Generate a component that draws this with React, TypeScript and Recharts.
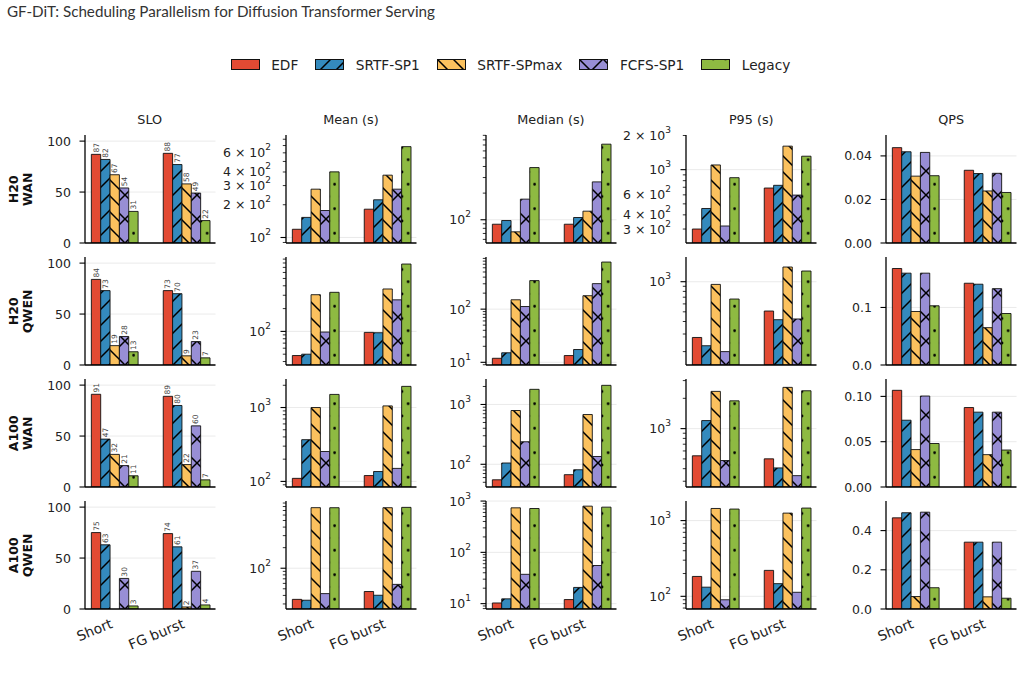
import React from 'react';
import { BarChart, Bar, XAxis, YAxis, CartesianGrid, LabelList } from 'recharts';

// ---------- data ----------
const categories = ['Short', 'FG burst'];
const schedulers = ['EDF', 'SRTF-SP1', 'SRTF-SPmax', 'FCFS-SP1', 'Legacy'];
const rowLabels = [['H20', 'WAN'], ['H20', 'QWEN'], ['A100', 'WAN'], ['A100', 'QWEN']];
const metricTitles = ['SLO', 'Mean (s)', 'Median (s)', 'P95 (s)', 'QPS'];

// every row: [Short, FG burst], values in scheduler order
const sloValues = [
  [[87, 82, 67, 54, 31], [88, 77, 58, 49, 22]],
  [[84, 73, 19, 28, 13], [73, 70, 9, 23, 7]],
  [[91, 47, 32, 21, 11], [89, 80, 22, 60, 7]],
  [[75, 63, 0, 30, 3], [74, 61, 2, 37, 4]],
];
const meanValues = [
  [[119, 153, 278, 177, 401], [182, 222, 374, 278, 684]],
  [[48, 50, 305, 98, 328], [97, 96, 363, 261, 775]],
  [[110, 367, 1000, 254, 1504], [120, 136, 1052, 150, 1933]],
  [[35, 34, 770, 42.5, 769], [45.6, 40.2, 769, 58, 778]],
];
const medianValues = [
  [[89, 98, 73, 171, 389], [89, 106, 125, 268, 715]],
  [[11.9, 15.1, 150, 112, 344], [13.4, 17.4, 179, 302, 769]],
  [[55, 105, 793, 238, 1791], [67, 81, 679, 135, 2090]],
  [[10.3, 12.4, 738, 37.3, 716], [12, 20.7, 796, 55.4, 761]],
];
const p95Values = [
  [[300, 455, 1100, 319, 850], [689, 728, 1611, 597, 1314]],
  [[277, 229, 940, 200, 671], [509, 417, 1402, 424, 1279]],
  [[537, 1202, 2344, 482, 1888], [501, 407, 2570, 341, 2377]],
  [[183, 132, 1445, 90, 1419], [220, 147, 1255, 113, 1463]],
];
const qpsValues = [
  [[0.0438, 0.0419, 0.0307, 0.0416, 0.0309], [0.0334, 0.0319, 0.0239, 0.032, 0.0232]],
  [[0.1677, 0.1596, 0.093, 0.1596, 0.1029], [0.1421, 0.1404, 0.0649, 0.1327, 0.0895]],
  [[0.1067, 0.0737, 0.0413, 0.1004, 0.048], [0.0877, 0.0826, 0.0357, 0.0826, 0.0408]],
  [[0.465, 0.491, 0.0636, 0.494, 0.1085], [0.341, 0.341, 0.062, 0.341, 0.055]],
];

const sloTicks = [0, 50, 100];
const qpsTicks = [[0, 0.02, 0.04], [0, 0.1], [0, 0.05, 0.1], [0, 0.2, 0.4]];
const qpsTickDigits = [2, 1, 2, 1];

// ---------- axis limits ----------
const sloLimits = [0, 106];
const meanLimits = [[89, 875], [36, 960], [84, 2432], [25.3, 964]];
const medianLimits = [[54.6, 908], [8.9, 957], [41.7, 2667], [7.86, 1003]];
const p95Limits = [[226, 2020], [147, 1766], [263, 3112], [68, 1814]];
const qpsLimits = [0.0496, 0.1877, 0.1192, 0.551];
const xLimits = [-0.4075, 1.4075];

// ---------- styling ----------
const COLORS = ['#E24A33', '#348ABD', '#FBC15E', '#988ED5', '#8EBA42'];
const HATCHES = ['', '/', '\\', 'x', '.'];
const FONT = '"DejaVu Sans", Verdana, sans-serif';
const LINE_S = 16;
const CROSS_S = 24;
const DOT_S = 12.25;
const HATCH_LW = 1.5;

const PLOT_W = 130.5;
const PLOT_H = 108;
const Y_W = 80;
const TOP = 12;
const X_H = 50;
const RIGHT = 6;
const colAxisX = [84.5, 285.7, 485.7, 686, 886];
const rowAxisY = [243.3, 365.3, 487.3, 609.3];

const patId = (k: number) => `sched-fill-${k}`;

function HatchPattern({ k }: { k: number }) {
  const color = COLORS[k];
  const h = HATCHES[k];
  if (h === '/' || h === '\\' || h === 'x') {
    const s = h === 'x' ? CROSS_S : LINE_S;
    const ne = `M0,${s} L${s},0 M${-s / 2},${s / 2} L${s / 2},${-s / 2} M${s / 2},${1.5 * s} L${1.5 * s},${s / 2}`;
    const nw = `M0,0 L${s},${s} M${-s / 2},${s / 2} L${s / 2},${1.5 * s} M${s / 2},${-s / 2} L${1.5 * s},${s / 2}`;
    return (
      <pattern id={patId(k)} patternUnits="userSpaceOnUse" width={s} height={s}>
        <rect width={s} height={s} fill={color} />
        {(h === '/' || h === 'x') && <path d={ne} stroke="#000" strokeWidth={HATCH_LW} fill="none" />}
        {(h === '\\' || h === 'x') && <path d={nw} stroke="#000" strokeWidth={HATCH_LW} fill="none" />}
      </pattern>
    );
  }
  if (h === '.') {
    const w = DOT_S;
    const hh = DOT_S * 2;
    const r = 1.35;
    return (
      <pattern id={patId(k)} patternUnits="userSpaceOnUse" width={w} height={hh}>
        <rect width={w} height={hh} fill={color} />
        {[[0, 0], [w, 0], [0, hh], [w, hh], [w / 2, hh / 2]].map(([cx, cy], i) => (
          <circle key={i} cx={cx} cy={cy} r={r} fill="#000" />
        ))}
      </pattern>
    );
  }
  return null;
}

const fillOf = (k: number) => (HATCHES[k] ? `url(#${patId(k)})` : COLORS[k]);

// ---------- ticks ----------
function logTicks(lo: number, hi: number) {
  const out: number[] = [];
  for (let d = Math.floor(Math.log10(lo)); d <= Math.ceil(Math.log10(hi)); d++) {
    for (let m = 1; m <= 9; m++) {
      const v = m * Math.pow(10, d);
      if (v >= lo * 0.9999 && v <= hi * 1.0001) out.push(v);
    }
  }
  return out;
}

function splitLog(v: number) {
  const d = Math.floor(Math.log10(v) + 1e-9);
  const m = Math.round(v / Math.pow(10, d));
  return { m, d };
}

function makeLogTick(lo: number, hi: number) {
  const span = Math.log10(hi / lo);
  const labelled = span > 1 ? [1] : span > 0.4 ? [1, 2, 3, 4, 6] : [1, 2, 3, 4, 5, 6, 7, 8, 9];
  return (props: any) => {
    const { x, y, payload } = props;
    const { m, d } = splitLog(payload.value);
    const major = m === 1;
    const show = labelled.includes(m);
    return (
      <g>
        <line x1={x} x2={x - (major ? 5.5 : 3.2)} y1={y} y2={y} stroke="#000" strokeWidth={major ? 1.1 : 0.8} />
        {show && (
          <text x={x - 15} y={y} textAnchor="end" dominantBaseline="central" fontSize={12.5} fontFamily={FONT} fill="#222">
            {major ? '10' : `${m} × 10`}
            <tspan dy={-5.5} fontSize={9}>{d}</tspan>
          </text>
        )}
      </g>
    );
  };
}

function makeLinearTick(digits: number) {
  return (props: any) => {
    const { x, y, payload } = props;
    return (
      <g>
        <line x1={x} x2={x - 5.5} y1={y} y2={y} stroke="#000" strokeWidth={1.1} />
        <text x={x - 14} y={y} textAnchor="end" dominantBaseline="central" fontSize={12.5} fontFamily={FONT} fill="#222">
          {Number(payload.value).toFixed(digits)}
        </text>
      </g>
    );
  };
}

const CategoryTick = (props: any) => {
  const { x, y, payload } = props;
  const ax = x - 0.8;
  const ay = y + 18.3;
  return (
    <text x={ax} y={ay} transform={`rotate(-22.5, ${ax}, ${ay})`} textAnchor="end" fontSize={13.8} fontFamily={FONT} fill="#222">
      {categories[payload.value]}
    </text>
  );
};

const SloLabel = (props: any) => {
  const { x, y, width, value } = props;
  const cx = Number(x) + Number(width) / 2;
  const by = Number(y) - 1.8;
  return (
    <text x={cx} y={by} transform={`rotate(-90, ${cx}, ${by})`} textAnchor="start" dominantBaseline="central" fontSize={7.5} fontFamily={FONT} fill="#444">
      {value}
    </text>
  );
};

// ---------- one small panel ----------
function Panel({ row, col }: { row: number; col: number }) {
  const values = [sloValues, meanValues, medianValues, p95Values, qpsValues][col][row];
  const data = categories.map((c, i) => {
    const o: any = { x: i, cat: c };
    schedulers.forEach((_, k) => {
      o['s' + k] = values[i][k];
    });
    return o;
  });

  const isLog = col >= 1 && col <= 3;
  let lo: number;
  let hi: number;
  let ticks: number[];
  let tick: any;
  if (col === 0) {
    [lo, hi] = sloLimits;
    ticks = sloTicks;
    tick = makeLinearTick(0);
  } else if (col === 4) {
    lo = 0;
    hi = qpsLimits[row];
    ticks = qpsTicks[row];
    tick = makeLinearTick(qpsTickDigits[row]);
  } else {
    [lo, hi] = [meanLimits, medianLimits, p95Limits][col - 1][row];
    ticks = logTicks(lo, hi);
    tick = makeLogTick(lo, hi);
  }
  const f = (v: number) => (isLog ? Math.log10(v) : v);
  const majors = isLog ? ticks.filter((v) => splitLog(v).m === 1) : ticks;
  const gridY = majors.map((v) => TOP + PLOT_H * (1 - (f(v) - f(lo)) / (f(hi) - f(lo))));

  const axisLine = { stroke: '#000', strokeWidth: 1.3 };
  return (
    <div style={{ position: 'absolute', left: colAxisX[col] - Y_W, top: rowAxisY[row] - PLOT_H - TOP }}>
      <BarChart
        width={Y_W + PLOT_W + RIGHT}
        height={TOP + PLOT_H + X_H}
        data={data}
        margin={{ top: TOP, right: RIGHT, bottom: 0, left: 0 }}
        barSize={9.35}
        barGap={0}
      >
        <CartesianGrid horizontal vertical={false} horizontalPoints={gridY} stroke="#e4e4e4" strokeWidth={0.8} />
        <XAxis
          dataKey="x"
          type="number"
          domain={xLimits}
          allowDataOverflow
          ticks={[0, 1]}
          interval={0}
          height={X_H}
          axisLine={axisLine}
          tickLine={false}
          tickSize={0}
          tickMargin={0}
          tick={row === 3 ? CategoryTick : false}
        />
        <YAxis
          type="number"
          scale={isLog ? 'log' : 'linear'}
          domain={[lo, hi]}
          allowDataOverflow
          ticks={ticks}
          interval={0}
          width={Y_W}
          axisLine={axisLine}
          tickLine={false}
          tickSize={0}
          tickMargin={0}
          tick={tick}
        />
        {schedulers.map((s, k) => (
          <Bar key={s} dataKey={'s' + k} name={s} fill={fillOf(k)} stroke="#111" strokeWidth={0.9} isAnimationActive={false}>
            {col === 0 && <LabelList dataKey={'s' + k} content={SloLabel} />}
          </Bar>
        ))}
      </BarChart>
    </div>
  );
}

// ---------- page ----------
export default function App() {
  return (
    <div style={{ position: 'absolute', left: 0, top: 0, width: 1021, height: 682, background: '#fff', overflow: 'hidden' }}>
      <svg width={0} height={0} style={{ position: 'absolute' }}>
        <defs>
          {schedulers.map((_, k) => (
            <HatchPattern key={k} k={k} />
          ))}
        </defs>
      </svg>

      <div style={{ position: 'absolute', left: 7, top: 2, fontFamily: 'Lato, "Open Sans", sans-serif', fontSize: 15.2, color: '#333', whiteSpace: 'nowrap' }}>
        GF-DiT: Scheduling Parallelism for Diffusion Transformer Serving
      </div>

      <div style={{ position: 'absolute', left: 0, top: 54.5, width: 1021, height: 20, display: 'flex', justifyContent: 'center', alignItems: 'center' }}>
        {schedulers.map((s, k) => (
          <div key={s} style={{ display: 'flex', alignItems: 'center', marginRight: k < schedulers.length - 1 ? 17 : 0 }}>
            <svg width={29} height={11} style={{ display: 'block' }}>
              <rect x={0.5} y={0.5} width={28} height={10} fill={fillOf(k)} stroke="#111" strokeWidth={1} />
            </svg>
            <span style={{ marginLeft: 11.5, fontFamily: FONT, fontSize: 13.7, color: '#222', lineHeight: '20px' }}>{s}</span>
          </div>
        ))}
      </div>

      {rowAxisY.map((_, r) => colAxisX.map((__, c) => <Panel key={`${r}-${c}`} row={r} col={c} />))}

      <svg width={1021} height={682} style={{ position: 'absolute', left: 0, top: 0, pointerEvents: 'none' }}>
        {metricTitles.map((t, c) => (
          <text key={t} x={colAxisX[c] + PLOT_W / 2} y={119.7} textAnchor="middle" dominantBaseline="central" fontSize={12.8} fontFamily={FONT} fill="#222">
            {t}
          </text>
        ))}
        {rowLabels.map(([a, b], r) => {
          const cy = rowAxisY[r] - PLOT_H / 2;
          return (
            <g key={r} fontFamily={FONT} fontSize={12.5} fontWeight="bold" fill="#111">
              <text x={13.5} y={cy} transform={`rotate(-90, 13.5, ${cy})`} textAnchor="middle" dominantBaseline="central">{a}</text>
              <text x={28} y={cy} transform={`rotate(-90, 28, ${cy})`} textAnchor="middle" dominantBaseline="central">{b}</text>
            </g>
          );
        })}
      </svg>
    </div>
  );
}
